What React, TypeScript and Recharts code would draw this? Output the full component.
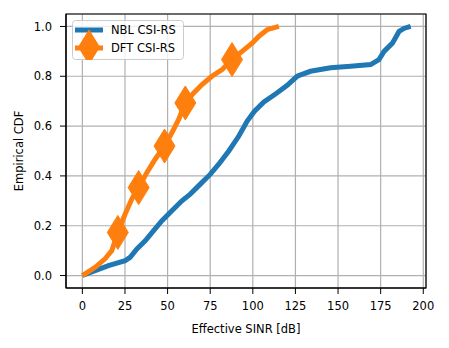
import { LineChart, Line, XAxis, YAxis, CartesianGrid, ReferenceArea } from "recharts";

// NBL CSI-RS empirical CDF
const nblSinr = [0, 7.5, 15.3, 25.1, 28, 32, 37, 41.8, 46.7, 52.5, 58.4, 63.3, 69.2, 75.1, 80, 85.9, 91.8, 96.7, 101, 106.5, 113.5, 120, 126, 133.8, 145.6, 157.4, 169.1, 174, 177, 181.9, 185.8, 189, 192.6];
const nblCdf = [0, 0.02, 0.04, 0.06, 0.073, 0.107, 0.14, 0.18, 0.22, 0.26, 0.3, 0.327, 0.367, 0.407, 0.447, 0.5, 0.56, 0.62, 0.66, 0.697, 0.73, 0.763, 0.8, 0.82, 0.834, 0.84, 0.847, 0.867, 0.9, 0.933, 0.98, 0.993, 1.0];

// DFT CSI-RS empirical CDF
const dftSinr = [0, 7.5, 13.3, 17.3, 20.8, 25.1, 29, 33, 37.8, 42.7, 48.2, 52.5, 56.5, 60.4, 65.3, 70.2, 76, 82, 87.8, 93.7, 99.6, 103.5, 108.4, 115.3];
const dftCdf = [0, 0.033, 0.067, 0.1, 0.173, 0.247, 0.307, 0.353, 0.413, 0.467, 0.52, 0.573, 0.627, 0.693, 0.733, 0.767, 0.8, 0.827, 0.867, 0.9, 0.933, 0.96, 0.987, 1.0];
const dftMarkers = [4, 7, 10, 13, 18];

const xTicks = [0, 25, 50, 75, 100, 125, 150, 175, 200];
const yTicks = [0, 0.2, 0.4, 0.6, 0.8, 1.0];

const nblData = nblSinr.map((v, i) => ({ v, p: nblCdf[i] }));
const dftData = dftSinr.map((v, i) => ({ v, p: dftCdf[i], m: dftMarkers.includes(i) }));

const BLUE = "#1f77b4";
const ORANGE = "#ff7f0e";
const FONT = "DejaVu Sans";
const FS = 11.5;

const diamond = (cx: number, cy: number) =>
  `M${cx},${cy - 17} L${cx + 10.5},${cy} L${cx},${cy + 17} L${cx - 10.5},${cy} Z`;

const DiamondDot = (props: any) => {
  const { cx, cy, payload, index } = props;
  if (!payload?.m) return <g key={`d${index}`} />;
  return <path key={`d${index}`} d={diamond(cx, cy)} fill={ORANGE} stroke={ORANGE} strokeWidth={1} />;
};

const LegendBox = () => (
  <svg width={112} height={40} style={{ display: "block" }}>
    <rect x={0.5} y={0.5} width={111} height={39} rx={3} fill="rgba(255,255,255,0.8)" stroke="#cccccc" />
    <line x1={3} x2={31} y1={10} y2={10} stroke={BLUE} strokeWidth={5} />
    <text x={39} y={14} fontSize={FS} fontFamily={FONT} fill="#000">NBL CSI-RS</text>
    <line x1={3} x2={31} y1={28} y2={28} stroke={ORANGE} strokeWidth={5} />
    <path d={diamond(17, 27)} fill={ORANGE} stroke={ORANGE} />
    <text x={39} y={32} fontSize={FS} fontFamily={FONT} fill="#000">DFT CSI-RS</text>
  </svg>
);

const tickStyle = { fontSize: FS, fontFamily: FONT, fill: "#000" };

export default function App() {
  return (
    <div style={{ position: "absolute", left: 0, top: 0, width: 449, height: 348, background: "#fff" }}>
      <LineChart width={449} height={348} margin={{ top: 14, right: 23, bottom: 0, left: 0 }}>
        <CartesianGrid stroke="#b0b0b0" strokeWidth={1.2} />
        <XAxis
          type="number"
          dataKey="v"
          domain={[-9.6, 201.6]}
          ticks={xTicks}
          allowDataOverflow
          height={60}
          tick={tickStyle}
          tickSize={6}
          tickMargin={8}
          axisLine={{ stroke: "#000" }}
          tickLine={{ stroke: "#000" }}
          label={{ value: "Effective SINR [dB]", position: "insideBottom", offset: 15, style: { fontSize: FS, fontFamily: FONT, fill: "#000" } }}
        />
        <YAxis
          type="number"
          dataKey="p"
          domain={[-0.05, 1.05]}
          ticks={yTicks}
          allowDataOverflow
          width={66}
          tick={tickStyle}
          tickSize={6}
          tickMargin={8}
          tickFormatter={(t: number) => t.toFixed(1)}
          axisLine={{ stroke: "#000" }}
          tickLine={{ stroke: "#000" }}
          label={{ value: "Empirical CDF", angle: -90, position: "insideLeft", offset: 19, style: { fontSize: FS, fontFamily: FONT, fill: "#000", textAnchor: "middle" } }}
        />
        <Line data={nblData} dataKey="p" type="linear" stroke={BLUE} strokeWidth={5} dot={false} isAnimationActive={false} />
        <Line data={dftData} dataKey="p" type="linear" stroke={ORANGE} strokeWidth={5} dot={DiamondDot} isAnimationActive={false} />
        <ReferenceArea x1={-9.6} x2={201.6} y1={-0.05} y2={1.05} fill="none" stroke="#000" strokeWidth={1.2} ifOverflow="visible" />
      </LineChart>
      <div style={{ position: "absolute", left: 72, top: 20 }}>
        <LegendBox />
      </div>
    </div>
  );
}
